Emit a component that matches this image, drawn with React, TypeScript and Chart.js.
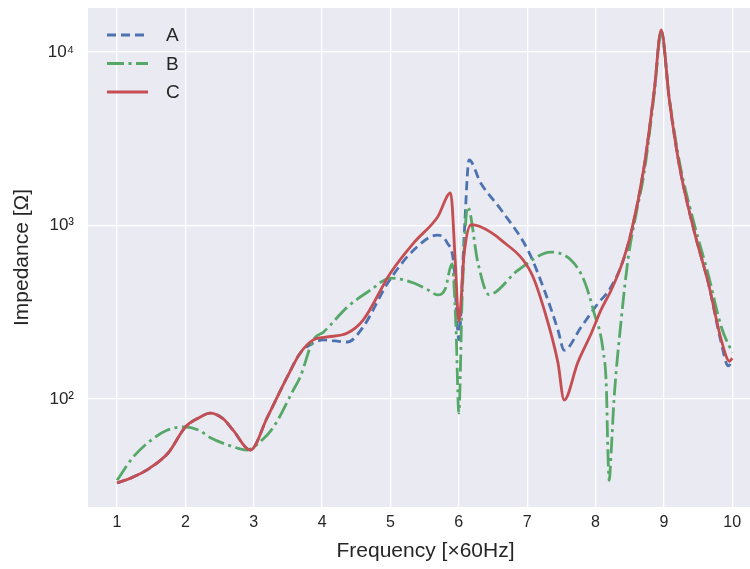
import React, { useEffect, useRef } from "react";
import { Chart, registerables } from "chart.js";

Chart.register(...registerables);

// ---- data ----
const seriesLabels = ["A", "B", "C"];

const freqA = [1.0, 1.2, 1.48, 1.75, 2.0, 2.2, 2.36, 2.55, 2.7, 2.95, 3.2, 3.49, 3.68, 3.87, 4.02, 4.37, 4.6, 4.96, 5.34, 5.69, 5.83, 5.93, 5.97, 6.0, 6.08, 6.15, 6.32, 6.62, 7.01, 7.25, 7.45, 7.54, 7.79, 8.04, 8.2, 8.38, 8.52, 8.71, 8.86, 8.96, 9.08, 9.23, 9.45, 9.65, 9.84, 9.94, 10.0];
const impA = [32.8, 35, 40, 49, 69, 78, 83, 77, 66, 50.8, 78.7, 134, 184, 210, 219, 213, 260, 466, 722, 881, 794, 577, 300, 220, 900, 2385, 1758, 1228, 722, 425, 250, 191, 260, 357, 425, 591, 906, 2175, 6040, 13200, 5290, 2175, 906, 466, 210, 155, 165];

const freqB = [1.0, 1.23, 1.5, 1.73, 1.97, 2.2, 2.36, 2.7, 2.9, 3.1, 3.29, 3.58, 3.68, 3.87, 4.02, 4.37, 4.71, 5.0, 5.34, 5.55, 5.69, 5.8, 5.9, 5.96, 6.0, 6.05, 6.13, 6.28, 6.44, 6.87, 7.35, 7.64, 7.83, 7.98, 8.11, 8.16, 8.18, 8.2, 8.23, 8.27, 8.38, 8.48, 8.6, 8.71, 8.86, 8.96, 9.08, 9.23, 9.45, 9.65, 9.84, 10.0];
const impB = [34, 46, 58, 66, 69, 66, 60, 53, 50.8, 57, 69, 113, 134, 219, 243, 339, 425, 498, 466, 425, 398, 430, 600, 250, 83, 400, 1280, 608, 400, 554, 703, 632, 485, 313, 191, 112, 50.8, 34, 50.8, 98.6, 297, 658, 1200, 2000, 5800, 13000, 5400, 2300, 1000, 520, 260, 185];

const freqC = [1.0, 1.2, 1.48, 1.75, 2.0, 2.2, 2.36, 2.55, 2.7, 2.95, 3.2, 3.49, 3.68, 3.87, 4.05, 4.37, 4.6, 5.0, 5.34, 5.69, 5.88, 5.95, 6.0, 6.08, 6.18, 6.3, 6.62, 7.06, 7.25, 7.45, 7.54, 7.74, 7.94, 8.08, 8.23, 8.38, 8.52, 8.71, 8.86, 8.96, 9.08, 9.23, 9.45, 9.65, 9.84, 9.96, 10.0];
const impC = [32.8, 35, 40, 49, 69, 78, 83, 77, 66, 50.8, 78.7, 134, 184, 219, 227, 240, 285, 532, 794, 1120, 1540, 600, 280, 700, 1010, 990, 824, 532, 326, 162, 98.6, 162, 240, 326, 425, 591, 906, 2175, 6040, 13400, 5290, 2175, 906, 466, 219, 165, 172];

const xTickValues = [1, 2, 3, 4, 5, 6, 7, 8, 9, 10];
const yTickValues = [100, 1000, 10000];
const yTickLabels = ["10²", "10³", "10⁴"];

const xTitle = "Frequency [×60Hz]";
const yTitle = "Impedance [Ω]";

const FONT = "'Liberation Sans', Arial, sans-serif";
const TEXT = "#262626";

function pts(xs: number[], ys: number[]) {
  return xs.map((x, i) => ({ x, y: ys[i] }));
}

function zeroPad(s: any) {
  s.paddingTop = 0;
  s.paddingBottom = 0;
  s.paddingLeft = 0;
  s.paddingRight = 0;
}

export default function App() {
  const ref = useRef<HTMLCanvasElement>(null);

  useEffect(() => {
    document.body.style.margin = "0";
    const canvas = ref.current!;

    const bgPlugin = {
      id: "plotBg",
      beforeDraw(chart: any) {
        const { ctx, chartArea: a } = chart;
        ctx.save();
        ctx.fillStyle = "#EAEAF2";
        ctx.fillRect(a.left, a.top, a.right - a.left, a.bottom - a.top);
        ctx.restore();
      },
    };

    const legendPlugin = {
      id: "innerLegend",
      afterDatasetsDraw(chart: any) {
        const { ctx, chartArea: a } = chart;
        [0, 1, 2].forEach((i, row) => {
          const ds = chart.data.datasets[i];
          const y = a.top + 27 + row * 28.5;
          ctx.save();
          ctx.strokeStyle = ds.borderColor;
          ctx.lineWidth = ds.borderWidth;
          ctx.setLineDash(ds.borderDash || []);
          ctx.beginPath();
          ctx.moveTo(a.left + 19, y);
          ctx.lineTo(a.left + 60, y);
          ctx.stroke();
          ctx.setLineDash([]);
          ctx.fillStyle = TEXT;
          ctx.font = `19px ${FONT}`;
          ctx.textBaseline = "middle";
          ctx.textAlign = "left";
          ctx.fillText(ds.label, a.left + 78, y + 1);
          ctx.restore();
        });
      },
    };

    const chart = new Chart(canvas, {
      type: "line",
      data: {
        datasets: [
          {
            label: seriesLabels[0],
            data: pts(freqA, impA),
            borderColor: "#4C72B0",
            borderWidth: 2.8,
            borderDash: [9, 5],
            order: 2,
          },
          {
            label: seriesLabels[1],
            data: pts(freqB, impB),
            borderColor: "#55A868",
            borderWidth: 2.8,
            borderDash: [17, 4.5, 3, 4.5],
            order: 1,
          },
          {
            label: seriesLabels[2],
            data: pts(freqC, impC),
            borderColor: "#C44E52",
            borderWidth: 2.8,
            order: 0,
          },
        ] as any,
      },
      options: {
        responsive: false,
        animation: false,
        devicePixelRatio: 1,
        layout: { padding: { top: 8, left: 0, right: 0, bottom: 0 } },
        elements: {
          point: { radius: 0, hoverRadius: 0 },
          line: { fill: false, cubicInterpolationMode: "monotone", borderCapStyle: "butt" },
        },
        plugins: {
          legend: { display: false },
          tooltip: { enabled: false },
        },
        scales: {
          x: {
            type: "linear",
            min: 0.575,
            max: 10.45,
            afterFit: (s: any) => {
              s.height = 62;
              zeroPad(s);
            },
            afterBuildTicks: (s: any) => {
              s.ticks = xTickValues.map((v) => ({ value: v }));
            },
            grid: { color: "#FFFFFF", lineWidth: 1.3, drawTicks: false },
            border: { display: false },
            ticks: {
              color: TEXT,
              font: { family: FONT, size: 16 },
              padding: 6,
              maxRotation: 0,
              callback: (v: any) => String(v),
            },
            title: {
              display: true,
              text: xTitle,
              color: TEXT,
              font: { family: FONT, size: 21 },
              padding: { top: 0, bottom: 5 },
            },
          },
          y: {
            type: "logarithmic",
            min: 23.85,
            max: 17930,
            afterFit: (s: any) => {
              s.width = 88;
              zeroPad(s);
            },
            afterBuildTicks: (s: any) => {
              s.ticks = yTickValues.map((v) => ({ value: v }));
            },
            grid: { color: "#FFFFFF", lineWidth: 1.3, drawTicks: false },
            border: { display: false },
            ticks: {
              color: TEXT,
              font: { family: FONT, size: 17 },
              padding: 14,
              callback: (v: any) => {
                const i = yTickValues.indexOf(Number(v));
                return i >= 0 ? yTickLabels[i] : "";
              },
            },
            title: {
              display: true,
              text: yTitle,
              color: TEXT,
              font: { family: FONT, size: 21 },
              padding: { top: 10, bottom: 0 },
            },
          },
        },
      } as any,
      plugins: [bgPlugin, legendPlugin],
    });

    return () => chart.destroy();
  }, []);

  return (
    <div style={{ width: 750, height: 569, overflow: "hidden" }}>
      <canvas ref={ref} width={763} height={569} style={{ width: 763, height: 569, display: "block" }} />
    </div>
  );
}
